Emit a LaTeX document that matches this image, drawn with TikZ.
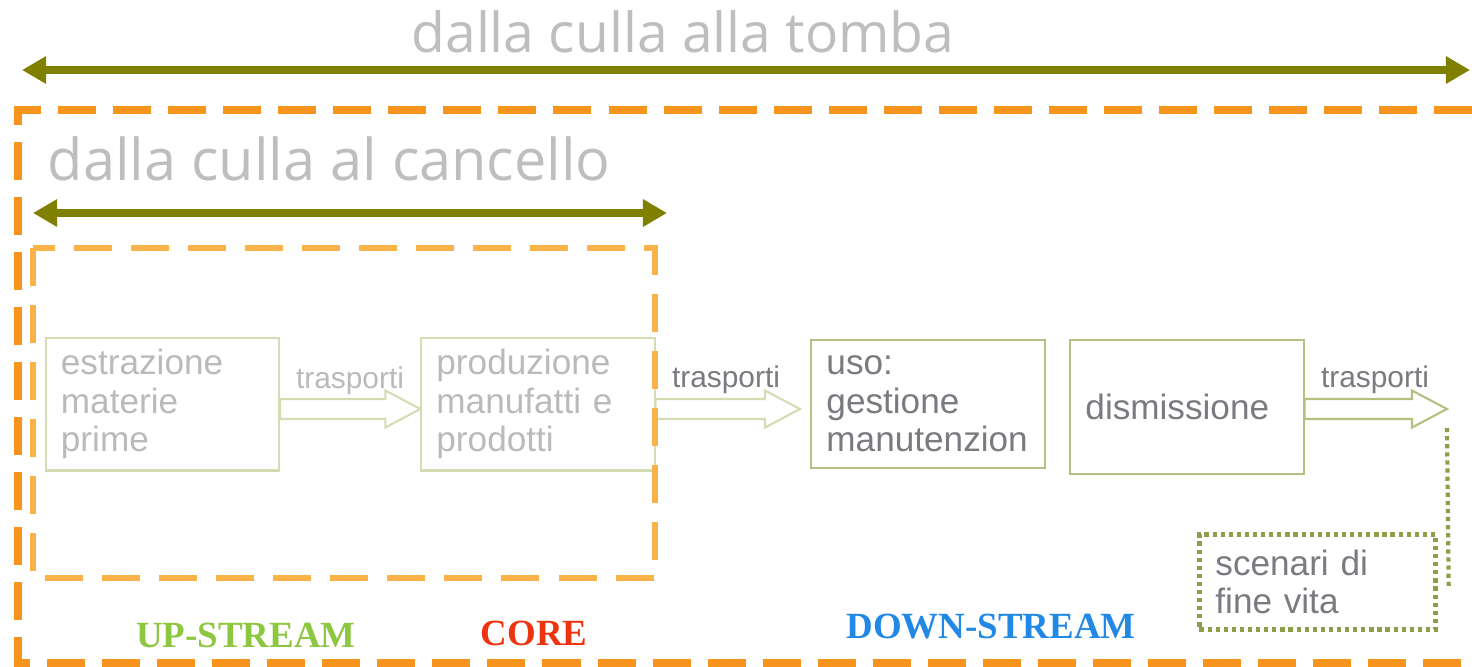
\documentclass[tikz,border=0pt]{standalone}
\usepackage{fontspec}
\setmainfont{Liberation Sans}
\newfontfamily\titlefont{Open Sans}
\newfontfamily\streamfont{Liberation Serif}
\usetikzlibrary{arrows.meta,calc,positioning}

\definecolor{olivearr}{RGB}{128,128,0}
\definecolor{orangeout}{RGB}{247,148,29}
\definecolor{orangein}{RGB}{251,178,72}
\definecolor{paleframe}{RGB}{212,220,180}
\definecolor{darkframe}{RGB}{182,190,128}
\definecolor{paletext}{RGB}{186,186,186}
\definecolor{darktext}{RGB}{122,122,128}
\definecolor{titlegray}{RGB}{190,190,190}
\definecolor{dotgreen}{RGB}{140,158,72}
\definecolor{upgreen}{RGB}{141,198,63}
\definecolor{corered}{RGB}{238,51,17}
\definecolor{downblue}{RGB}{34,136,230}

\tikzset{
  phase/.style={draw=#1, line width=0.6pt, text width=2.03cm, inner xsep=0.15cm,
    minimum height=1.28cm, align=left, font=\fontsize{10}{10.9}\selectfont},
  lifespan/.style={olivearr, line width=2pt,
    {Triangle[length=0.24cm,width=0.26cm]}-{Triangle[length=0.24cm,width=0.26cm]}},
  bigtitle/.style={titlegray, font=\titlefont\fontsize{15.7}{18}\selectfont, inner sep=0pt},
  trasp/.style={font=\fontsize{8.5}{10}\selectfont, inner sep=0pt, anchor=base},
  stream/.style={font=\streamfont\bfseries\fontsize{10.5}{12}\selectfont, inner sep=0pt, anchor=base},
  fatarr/.style={draw=#1, line width=0.6pt, fill=white},
  outerdash/.style={orangeout, line width=2pt, dash pattern=on 0.38cm off 0.17cm},
  innerdash/.style={orangein, line width=1.5pt, dash pattern=on 0.38cm off 0.19cm},
  dotline/.style={dotgreen, line width=1.2pt, dash pattern=on 1.2pt off 1.1pt}
}

\newcommand{\fatarrow}[3]{%
\draw[fatarr=#1] let \p1=(#2), \p2=(#3) in
  (\x1,\y1+2.85pt) -- (\x2-9.96pt,\y1+2.85pt) -- (\x2-9.96pt,\y1+5.26pt) -- (\x2,\y1)
  -- (\x2-9.96pt,\y1-5.26pt) -- (\x2-9.96pt,\y1-2.85pt) -- (\x1,\y1-2.85pt) -- cycle;}

\begin{document}
\begin{tikzpicture}[x=0.01cm,y=-0.01cm]
\useasboundingbox (0,0) rectangle (1472,666);

\node[bigtitle, anchor=base] (tomba) at (683,52) {dalla culla alla tomba};
\coordinate (tombaL) at (22,70);
\coordinate (tombaR) at (1470,70);
\draw[lifespan] (tombaL) -- (tombaR);

\draw[outerdash] (1472,110) -- (18,110) -- (18,663) -- (1472,663);

\node[bigtitle, anchor=base west, font=\titlefont\fontsize{16.4}{18}\selectfont] (cancello) at (47,180) {dalla culla al cancello};
\coordinate (cancelloL) at (33,213);
\coordinate (cancelloR) at (667,213);
\draw[lifespan] (cancelloL) -- (cancelloR);

\node[phase=paleframe, text=paletext] (estr) at (162.5,404) {estrazione\\materie\\prime};
\node[phase=paleframe, text=paletext] (prod) at (538,404) {produzione\\manufatti e\\prodotti};
\node[phase=darkframe, text=darktext] (uso) at (928,404) {uso:\\gestione\\manutenzion};
\node[phase=darkframe, text=darktext, minimum height=1.34cm] (dism) at (1187,407) {dismissione};

\coordinate (usoin) at (800,409);
\coordinate (fineout) at (1447,409);
\fatarrow{paleframe}{$(estr.east)+(0,5)$}{prod.west}
\fatarrow{paleframe}{$(prod.east)+(0,5)$}{usoin}
\fatarrow{darkframe}{$(dism.east)+(0,2)$}{fineout}

\node[trasp, text=paletext] (t1) at (350,388) {trasporti};
\node[trasp, text=darktext] (t2) at (726,387) {trasporti};
\node[trasp, text=darktext] (t3) at (1375,387) {trasporti};

\draw[innerdash] (33,248) rectangle (655,578);

\node[draw=dotgreen, line width=1.2pt, dash pattern=on 1.2pt off 1.1pt, text=darktext,
  text width=2.04cm, inner xsep=0.16cm, minimum height=0.95cm, align=left,
  font=\fontsize{10}{10.9}\selectfont] (fine) at (1317.5,582) {scenari di\\fine vita};
\coordinate (drop) at (1447,428);
\draw[dotline] (drop) -- ($(fine.north east)+(11,56)$);

\node[stream, text=upgreen] (up) at (246,647) {UP-STREAM};
\node[stream, text=corered] (core) at (534,645) {CORE};
\node[stream, text=downblue] (down) at (991,638) {DOWN-STREAM};
\end{tikzpicture}
\end{document}
